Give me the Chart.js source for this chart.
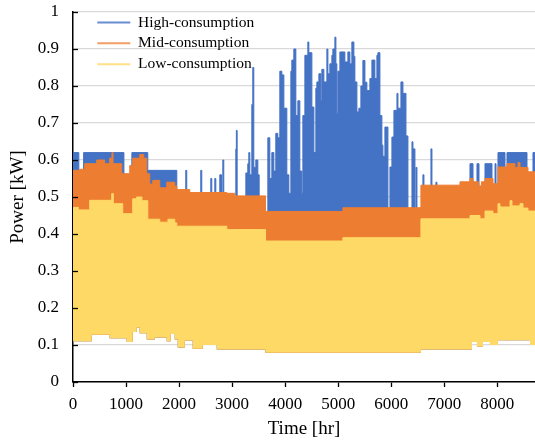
<!DOCTYPE html>
<html>
<head>
<meta charset="utf-8">
<script src="https://cdn.jsdelivr.net/npm/chart.js@4/dist/chart.umd.min.js"></script>
<style>
html,body{margin:0;padding:0;background:#fff;}
#wrap{width:535px;height:441px;}
</style>
</head>
<body>
<div id="wrap"><canvas id="c" width="535" height="441"></canvas></div>
<script>
// ---- Data (envelope of hourly profiles, step breakpoints in hours) ----
const seriesNames = ['High-consumption', 'Mid-consumption', 'Low-consumption'];
const xTickValues = [0, 1000, 2000, 3000, 4000, 5000, 6000, 7000, 8000];

const highHours = [0,110,200,960,1110,1410,1957,2126,2145,2409,2428,2598,2617,2674,2693,2768,2800,2825,2843,3070,3080,3095,3259,3296,3315,3334,3372,3390,3409,3447,3485,3510,3674,3711,3749,3787,3824,3862,3900,3938,3976,4032,4070,4108,4126,4164,4202,4240,4277,4315,4334,4372,4428,4447,4504,4542,4579,4598,4636,4674,4692,4730,4787,4806,4843,4881,4900,4938,4957,4975,4994,5032,5126,5183,5221,5258,5296,5315,5353,5390,5428,5466,5504,5541,5598,5636,5692,5730,5749,5787,5824,5843,5881,5938,5976,6013,6051,6108,6127,6183,6221,6278,6315,6391,6410,6447,6466,6485,6598,6617,6749,6768,6843,6862,7485,7542,7617,7655,7768,7900,7957,7976,8013,8145,8183,8560,8673];
const highMax   = [0.62,0.45,0.62,0.45,0.62,0.572,0.45,0.572,0.45,0.572,0.45,0.55,0.45,0.55,0.45,0.56,0.45,0.60,0.45,0.63,0.68,0.45,0.565,0.59,0.62,0.56,0.75,0.85,0.58,0.60,0.56,0.45,0.66,0.55,0.62,0.57,0.672,0.66,0.84,0.83,0.74,0.56,0.51,0.84,0.87,0.90,0.72,0.76,0.57,0.51,0.72,0.883,0.919,0.89,0.743,0.62,0.794,0.811,0.833,0.76,0.845,0.811,0.90,0.833,0.86,0.883,0.90,0.932,0.86,0.726,0.84,0.892,0.865,0.892,0.86,0.919,0.88,0.811,0.73,0.74,0.80,0.869,0.81,0.788,0.82,0.87,0.82,0.883,0.89,0.72,0.64,0.61,0.689,0.45,0.581,0.662,0.734,0.78,0.74,0.811,0.78,0.665,0.45,0.649,0.63,0.45,0.58,0.45,0.56,0.45,0.63,0.45,0.54,0.45,0.59,0.45,0.59,0.45,0.59,0.45,0.59,0.45,0.62,0.45,0.62,0.45,0.62];

const midHours = [0,126,221,447,598,692,735,755,919,1070,1126,1258,1334,1391,1447,1504,1636,1768,1919,1957,2202,2900,3051,3630,5089,6560,7296,7485,7542,7650,7700,7768,7919,8013,8183,8334,8390,8428,8579];
const midMax   = [0.572,0.575,0.59,0.60,0.59,0.605,0.62,0.59,0.563,0.585,0.605,0.615,0.605,0.563,0.535,0.545,0.525,0.54,0.53,0.52,0.512,0.51,0.503,0.461,0.471,0.532,0.541,0.55,0.541,0.53,0.541,0.55,0.536,0.581,0.59,0.58,0.593,0.58,0.568];

const lowHours = [0,100,315,730,760,938,1126,1200,1300,1410,1636,1790,1919,1957,2900,3630,5089,6560,7485,7674,7768,7919,8013,8051,8240,8277,8428,8485,8579];
const lowMax   = [0.472,0.465,0.491,0.509,0.482,0.455,0.495,0.50,0.49,0.44,0.432,0.44,0.43,0.421,0.412,0.381,0.39,0.441,0.45,0.441,0.462,0.455,0.482,0.473,0.49,0.476,0.482,0.47,0.462];

const minHours = [0,353,692,1013,1126,1202,1258,1391,1541,1768,1843,1919,1976,2108,2258,2447,2711,3630,6560,7523,7617,7730,7862,8013,8617];
const lowMin   = [0.11,0.128,0.118,0.108,0.135,0.147,0.132,0.115,0.12,0.11,0.13,0.115,0.093,0.112,0.09,0.10,0.088,0.079,0.088,0.108,0.095,0.108,0.10,0.113,0.10];

const colors = ['#4472C4', '#ED7D31', '#FFD966'];
const legendColors = ['rgba(68,114,196,0.8)', 'rgba(237,125,49,0.75)', 'rgba(255,217,102,0.8)'];
const X_END = 8760;
const X_VIEW_MAX = 8711;

function toPoints(hours, values) {
  const p = hours.map((h, i) => ({x: h, y: values[i]}));
  p.push({x: X_END, y: values[values.length - 1]});
  return p;
}

const FONT = "'Liberation Serif', 'Times New Roman', serif";

const insideTicks = {
  id: 'insideTicks',
  afterDatasetsDraw(chart) {
    const y = chart.scales.y, ctx = chart.ctx, l = chart.chartArea.left;
    ctx.save();
    ctx.strokeStyle = '#000';
    ctx.lineWidth = 1.3;
    y.ticks.forEach(t => {
      const py = Math.round(y.getPixelForValue(t.value)) + 0.5;
      ctx.beginPath(); ctx.moveTo(l, py); ctx.lineTo(l + 5, py); ctx.stroke();
    });
    ctx.restore();
  }
};
const legendShift = {
  id: 'legendShift',
  afterLayout(chart) {
    const lg = chart.legend;
    if (lg) { lg.left += 19; lg.top += 9.5; }
  }
};

const lineStyle = (label, color, data, legendColor) => ({
  label, data, legendColor,
  borderColor: color, backgroundColor: color,
  borderWidth: 1, pointRadius: 0, stepped: 'before',
  fill: 3
});

new Chart(document.getElementById('c'), {
  type: 'line',
  data: {
    datasets: [
      lineStyle(seriesNames[2], colors[2], toPoints(lowHours, lowMax), legendColors[2]),
      lineStyle(seriesNames[1], colors[1], toPoints(midHours, midMax), legendColors[1]),
      lineStyle(seriesNames[0], colors[0], toPoints(highHours, highMax), legendColors[0]),
      { label: 'min', data: toPoints(minHours, lowMin), borderWidth: 0, borderColor: 'rgba(0,0,0,0)',
        backgroundColor: 'rgba(0,0,0,0)', pointRadius: 0, stepped: 'before', fill: false }
    ]
  },
  options: {
    responsive: false,
    animation: false,
    devicePixelRatio: 1,
    layout: {padding: {top: 12, right: 0, left: 0, bottom: 0}},
    plugins: {
      tooltip: {enabled: false},
      legend: {
        position: 'chartArea', align: 'start', reverse: true,
        labels: {
          filter: (item) => item.text !== 'min',
          boxWidth: 33, boxHeight: 2, padding: 5.3,
          font: {family: FONT, size: 15.5}, color: '#000',
          generateLabels(chart) {
            return chart.data.datasets.map((d, i) => ({
              text: d.label, fillStyle: d.legendColor, strokeStyle: d.legendColor,
              lineWidth: 0, datasetIndex: i, hidden: false
            }));
          }
        }
      }
    },
    scales: {
      x: {
        type: 'linear', min: 0, max: X_VIEW_MAX,
        afterBuildTicks: (s) => { s.ticks = xTickValues.map(v => ({value: v})); },
        ticks: {font: {family: FONT, size: 17}, color: '#000', padding: 7, maxRotation: 0,
                callback: (v) => String(v)},
        grid: {drawOnChartArea: false, drawTicks: true, tickLength: 5, tickColor: '#000', tickWidth: 1.3},
        border: {color: '#000', width: 1.5},
        title: {display: true, text: 'Time [hr]', font: {family: FONT, size: 19}, color: '#000', padding: {top: 0, bottom: 1}},
        afterFit: (s) => { s.height = 59; s.paddingLeft = 0; s.paddingRight = 0; }
      },
      y: {
        min: 0, max: 1,
        ticks: {stepSize: 0.1, font: {family: FONT, size: 17}, color: '#000', padding: 14,
                callback: (v) => { const r = Math.round(v * 10) / 10; return (r === 0 || r === 1) ? String(r) : r.toFixed(1); }},
        grid: {color: '#d9d9d9', lineWidth: 1.3, drawTicks: false},
        border: {color: '#000', width: 1.5},
        title: {display: true, text: 'Power [kW]', font: {family: FONT, size: 19}, color: '#000', padding: {top: 7, bottom: 0}},
        afterFit: (s) => { s.width = 73; s.paddingTop = 0; s.paddingBottom = 0; }
      }
    }
  },
  plugins: [insideTicks, legendShift]
});
</script>
</body>
</html>
